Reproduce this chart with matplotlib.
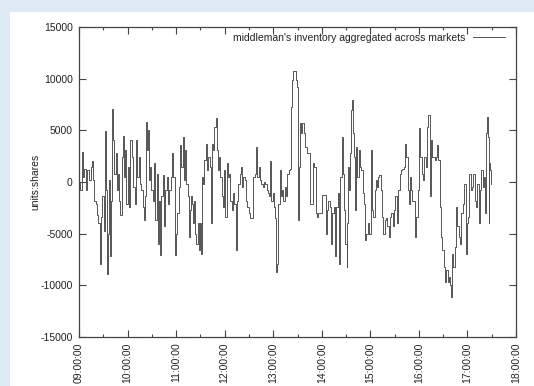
import matplotlib.pyplot as plt
from matplotlib.patches import Rectangle

plt.rcParams['font.family'] = ['Liberation Sans', 'DejaVu Sans']
plt.rcParams['axes.unicode_minus'] = False

# minutes after 09:00:00 and inventory (shares)
minutes = [
    0, 1.2, 3.3, 4.9, 6.2, 8.2, 10.3, 12.4, 14.4, 15.6, 17.3, 18.5, 20.6, 22.7, 23.9,
    25.5, 27.2, 28.8, 30.5, 31.7, 33.0, 34.2, 35.4, 36.7, 37.9, 39.1, 40.4, 41.2, 42.4, 43.7,
    45.3, 46.6, 47.8, 49.4, 51.1, 52.7, 54.0, 55.2, 56.9, 58.5, 60.2, 61.8, 63.4, 65.1, 66.7,
    68.8, 70.4, 71.7, 73.7, 75.4, 77.0, 78.7, 79.9, 81.2, 82.8, 84.0, 85.3, 86.1, 88.2, 89.4,
    91.0, 92.7, 94.3, 96.0, 97.6, 99.3, 100.5, 101.8, 103.4, 105.1, 106.7, 108.4, 110.0, 111.6,
    113.3, 114.9, 116.6, 118.2, 119.9, 121.5, 123.2, 124.4, 126.1, 128.1, 129.8,
    131.0, 132.2, 134.3, 135.9, 137.2, 138.4, 140.1, 141.3, 142.5, 143.8, 145.0, 146.7, 148.3,
    149.5, 150.8, 151.6, 153.2, 154.9, 156.5, 158.2, 159.8, 161.5, 163.1, 164.0, 165.6, 167.3,
    168.9, 170.1, 171.4, 173.0, 174.7, 176.3, 178.0, 179.6, 180.9, 182.5, 183.7, 185.4, 187.0,
    188.7, 190.3, 192.0, 193.6, 194.9,
    196.5, 198.6, 199.8, 201.4, 202.7, 204.7, 206.4, 208.0, 209.7, 211.3, 213.8, 215.0, 217.1,
    218.7, 220.4, 222.0, 223.7, 225.3, 227.0, 228.6, 230.3, 231.9, 233.6, 235.2, 236.1, 237.7,
    239.3, 240.6, 242.2, 243.1, 245.1, 246.4, 248.0, 249.2, 250.9, 252.5, 254.2, 255.8, 257.5,
    259.1, 260.8,
    262.0, 263.2, 264.5, 266.9, 268.2, 269.4, 270.2, 271.1, 271.9, 273.1, 274.4, 276.0, 277.7,
    279.3, 281.8, 284.2, 285.1, 287.5, 289.2, 290.8, 292.5, 294.1, 295.8, 298.3, 299.9, 303.2,
    304.8, 306.5, 308.1, 309.8, 311.4, 313.1, 314.7, 316.4, 318.0, 319.7, 321.3, 323.0, 324.6,
    326.3,
    327.6, 329.2, 330.9, 331.7, 332.5, 333.8, 335.0, 335.8, 336.7, 337.5, 338.7, 340.0, 341.6,
    342.8, 344.1, 345.7, 347.4, 349.0, 350.7, 352.3, 353.6, 355.2, 357.3, 358.9, 360.6, 362.2,
    363.9, 365.5, 366.7, 368.0, 369.6, 371.3, 372.9, 374.6, 376.2, 377.9, 379.5, 381.2, 382.8,
    384.5, 386.1, 387.8, 389.4, 391.0,
    393.0, 394.6, 396.3, 397.9, 399.6, 401.2, 402.9, 404.5, 406.2, 407.4, 408.7, 410.3, 412.0,
    413.6, 415.2, 416.9, 418.5, 420.2, 421.8, 423.5, 425.1, 426.8, 428.4, 430.1, 431.7, 433.4,
    435.0, 436.7, 438.3, 440.0, 441.6, 442.4, 444.1, 445.7, 447.4, 449.0, 450.7, 452.3, 454.0,
    455.6, 457.3,
    458.6, 460.2, 461.1, 462.7, 464.4, 466.0, 467.7, 469.3, 471.0, 472.6, 474.3, 475.9, 477.6,
    479.2, 480.8, 482.5, 484.1, 485.8, 487.4, 489.1, 490.7, 492.4, 494.0, 495.7, 497.3, 499.0,
    500.6, 502.3, 503.1, 503.9, 505.2, 506.4, 507.2, 508.0, 509.7,
]
inventory = [
    0, -800, 2900, 500, 1300, -800, 1200, 200, 1500, 2000, 200, -1800, -2100, -3200, -4000,
    -7900, -3400, -1400, -4700, 4900, -800, -8900, -5000, 200, -7200, -1800, 5000, 7100, 4100, 800,
    2800, -800, 800, -1800, -3200, 2400, 4500, 500, 3100, -2100, 1500, -2400, 4100, 2400, -500,
    -2100, 4100, 500, 2400, -150, -800, -2400, -3700, -1400, 5800, 3100, 5000, 200, 1500, -800,
    -1800, 1800, -3700, 800, -6000, -1800, -7100, -1400, 700, -4300, -800, 500, -2100, -800,
    500, 2800, 500, -7100, -5000, -3000, -500, 3600, 1500, 4400, 200,
    3100, -150, -1400, -5300, -2700, -1400, -2100, -4000, -1800, -5000, -6000, -4000, -6600,
    -4000, -7000, 500, -150, 2100, 3700, 1200, 2400, 1500, -4000, 3700, 3100, 5300,
    6200, 3100, 1200, 2400, 500, -1400, -2400, 1200, -3400, 1800, 500, 800, -1800,
    -2700, -1100, -2100, -6600, -1800,
    -150, 800, 1500, -500, 500, 200, -1800, -2400, -3000, -3500, -3500, 500, 800,
    3400, 500, 1500, 200, -150, -500, 0, -150, -800, -1100, -1400, 2000, -1800,
    -1100, -2400, -3500, -8700, -7900, -2100, 1200, -1400, -800, -1800, -500, -1400, 800,
    1200, 1300,
    7300, 9900, 10700, 10700, 9900, 9200, 5350, -3700, 1500, 5700, 4700, 5700, 4700,
    3400, 2800, 2800, -2100, -2100, 1800, 1500, -3000, -3400, -3000, -3000, -1300, -1300,
    -5000, -2700, -1800, -2400, -6000, -3000, -2400, -7200, -2400, -1100, -7900, 500, 4400,
    800,
    -2700, -6000, -8200, -4000, 1500, -800, 2800, 5000, 7000, 7950, 4700, 2400, -2700,
    3400, 500, 3100, 1500, 1200, -1100, -2100, -5600, -5000, -4000, -5000, 3100, -2700,
    -3400, -800, 200, -500, 500, 700, -800, -3400, -5000, -3700, -3500, -4300, -5300,
    -3400, -3000, -4300, -2700, -1400,
    -4000, -800, 800, 1200, 1300, 1500, 3700, 2400, -800, -2100, 500, -800, -1800,
    -1800, -5300, -3400, -800, 5200, 2400, 800, 200, 2400, 1500, 5300, 6500, -1400,
    4100, 2400, 2400, 2100, 2400, 3600, 2100, -2400, -5300, -6600, -8200, -9700, -8500,
    -9700, -9200,
    -10000, -11100, -7000, -8200, -6300, -2400, -4300, -5300, -6000, -3000, -2100, -150, -7000,
    -4000, -3400, 800, -800, -500, 800, -1800, -2400, -150, -4000, -800, 1200, -500,
    500, -3000, 4700, 6300, 4400, -4000, 1800, 1200, -150,
]

hour_ticks = list(range(0, 541, 60))
hour_labels = ['09:00:00', '10:00:00', '11:00:00', '12:00:00', '13:00:00',
               '14:00:00', '15:00:00', '16:00:00', '17:00:00', '18:00:00']
y_ticks = [-15000, -10000, -5000, 0, 5000, 10000, 15000]

fig = plt.figure(figsize=(5.34, 3.86), dpi=100, facecolor='#dfe9f5')
fig.patches.append(Rectangle((10 / 534, 0), 1, 1 - 12 / 386, transform=fig.transFigure,
                             facecolor='white', edgecolor='none', zorder=-10))
ax = fig.add_axes([79 / 534, 1 - 337 / 386, 437 / 534, 310 / 386])
ax.set_zorder(1)
ax.patch.set_facecolor('white')

ax.step(minutes, inventory, where='post', color='#4a4a4a', lw=0.65,
        label="middleman's inventory aggregated across markets")

ax.set_xlim(0, 540)
ax.set_ylim(-15000, 15000)
ax.set_xticks(hour_ticks)
ax.set_xticklabels(hour_labels, rotation=90)
ax.set_xticks(list(range(30, 540, 60)), minor=True)
ax.set_yticks(y_ticks)
ax.set_yticklabels([str(v) for v in y_ticks])

ax.tick_params(which='both', direction='in', top=True, right=True,
               labelsize=7.5, colors='#444444', labelcolor='#222222')
ax.tick_params(axis='x', which='major', length=5, width=0.8, pad=4)
ax.tick_params(axis='y', which='major', length=5, width=0.8, pad=4.5)
ax.tick_params(which='minor', length=2.5, width=0.8)
for s in ax.spines.values():
    s.set_color('#444444')
    s.set_linewidth(0.9)

ax.set_ylabel('units:shares', fontsize=7.5, color='#222222')
ax.yaxis.set_label_coords(-0.089, 0.5)

ax.legend(loc='upper right', bbox_to_anchor=(1, 1.016), frameon=False, fontsize=7.5,
          markerfirst=False, handlelength=3.1, handletextpad=0.7, borderaxespad=0.65,
          labelcolor='#222222')

fig.savefig('out.png', dpi=100, facecolor=fig.get_facecolor())
